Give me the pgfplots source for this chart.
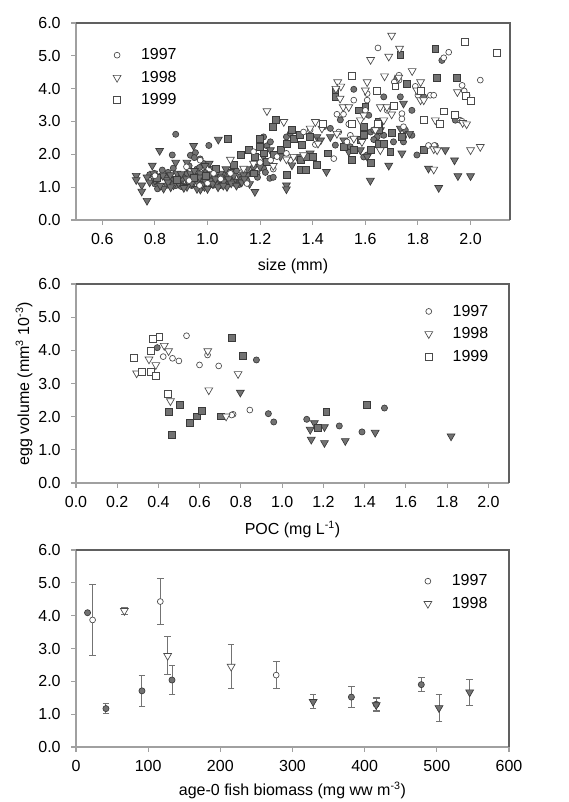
\documentclass[border=0pt]{standalone}
\usepackage{fontspec}
\setmainfont{Liberation Sans}
\usepackage{pgfplots}
\pgfplotsset{compat=1.18}
\definecolor{fillg}{HTML}{727272}
\definecolor{edgeg}{HTML}{3A3A3A}
\definecolor{openedge}{HTML}{4A4A4A}
\definecolor{axgray}{HTML}{A0A0A0}
\definecolor{framec}{HTML}{606060}
\newcommand{\fs}{\fontsize{12}{14}\selectfont}
\pgfplotsset{
 panel/.style={
  scale only axis, width=325.5pt, clip=false,
  axis x line=bottom, axis y line=left,
  axis line style={-, axgray, line width=0.8pt},
  ymin=0, ymax=6, ytick={0,1,...,6},
  tick style={axgray, line width=0.8pt}, tick align=outside, major tick length=3.5pt,
  yticklabel style={xshift=-4.5pt, /pgf/number format/.cd, fixed, fixed zerofill, precision=1},
  xticklabel style={yshift=-3pt},
  /pgf/number format/assume math mode=true,
  ticklabel style={font=\fs},
  label style={font=\fs},
  xlabel style={at={(axis description cs:0.5,-0.235)}, anchor=center},
  ylabel style={at={(axis description cs:-0.12,0.5)}, anchor=center},
  legend style={draw=none, fill=none, font=\fs, row sep=3pt, inner sep=0pt,
    /tikz/every odd column/.append style={column sep=13pt}},
  legend cell align=left,
 },
 o97/.style={only marks, mark=*, color=openedge, mark size=2.2pt, mark options={fill=white, line width=0.5pt}},
 f97/.style={only marks, forget plot, mark=*, color=edgeg, mark size=2.3pt, mark options={fill=fillg, line width=0.5pt}},
 o98/.style={only marks, mark=triangle*, color=openedge, mark size=3.4pt, mark options={rotate=180, fill=white, line width=0.5pt}},
 f98/.style={only marks, forget plot, mark=triangle*, color=edgeg, mark size=3.4pt, mark options={rotate=180, fill=fillg, line width=0.5pt}},
 o99/.style={only marks, mark=square*, color=openedge, mark size=2.6pt, mark options={fill=white, line width=0.5pt}},
 f99/.style={only marks, forget plot, mark=square*, color=edgeg, mark size=2.6pt, mark options={fill=fillg, line width=0.5pt}},
}
\begin{document}
\begin{tikzpicture}
\useasboundingbox (0,0) rectangle (426pt,601.5pt);
% ---------------- panel 1 ----------------
\begin{axis}[panel, at={(57pt,436.5pt)}, anchor=south west, height=147.75pt,
  xmin=0.5, xmax=2.15, xtick={0.6,0.8,...,2.01},
  xticklabel style={/pgf/number format/.cd, fixed, fixed zerofill, precision=1},
  xlabel={size (mm)},
  legend style={at={(axis description cs:0.085,0.885)}, anchor=north west}]
\addplot[f97] coordinates {(0.879,2.61)(0.866,1.98)(0.828,1.52)(0.798,1.42)(0.935,1.97)(0.954,2.05)(1.005,2.27)(0.972,1.86)(0.985,1.72)(0.922,1.42)(0.947,1.32)(0.82,1.01)(0.846,1.06)(0.871,1.17)(0.897,1.11)(0.922,1.06)(1.0,1.17)(1.023,1.06)(1.049,1.22)(1.074,1.32)(1.10,1.42)(1.125,1.32)(1.15,1.37)(1.175,1.62)(1.213,1.57)(1.188,1.42)(1.226,2.26)(1.213,2.53)(1.239,2.38)(1.237,1.27)(1.30,2.53)(1.315,2.64)(1.442,2.84)(1.467,2.79)(1.486,2.28)(1.543,2.23)(1.556,3.98)(1.613,3.19)(1.62,2.68)(1.632,2.74)(1.645,2.53)(1.67,2.58)(1.67,3.75)(1.72,4.31)(1.733,3.75)(1.745,2.53)(1.745,2.38)(1.752,2.74)(1.777,3.34)(1.777,2.58)(1.796,1.98)(1.822,3.75)(1.866,2.26)(1.891,4.86)(1.942,3.04)(1.594,1.92)(1.607,1.98)(1.632,2.45)(1.707,2.38)(1.505,3.05)
(0.78,1.38)(0.80,1.10)(0.81,0.95)(0.84,1.30)(0.86,1.25)(0.88,1.05)(0.89,1.38)(0.90,1.02)(0.91,1.28)(0.93,1.15)(0.94,1.05)(0.95,1.35)(0.96,1.55)(0.97,1.10)(0.98,1.25)(0.99,1.45)(1.00,1.00)(1.01,1.25)(1.02,1.35)(1.03,1.12)(1.04,1.30)(1.05,1.05)(1.06,1.38)(1.07,1.20)(1.08,1.10)(1.09,1.30)(1.10,1.18)(1.11,1.50)(1.12,1.08)(1.13,1.25)(0.85,1.45)(0.87,1.58)(0.93,1.65)(0.95,1.90)(0.97,1.60)(1.15,1.20)(1.17,1.45)(1.19,1.30)(1.22,1.45)(1.25,1.30)};
\addplot[f98] coordinates {(0.729,1.35)(0.729,1.22)(0.75,1.06)(0.75,0.87)(0.77,0.59)(0.818,2.11)(0.79,1.66)(0.795,1.42)(0.813,1.24)(0.833,0.96)(0.846,1.22)(0.859,1.37)(0.879,1.75)(0.884,1.42)(0.903,1.22)(0.922,1.75)(0.947,2.26)(0.935,1.42)(0.96,1.17)(0.973,0.93)(0.988,1.01)(1.0,1.32)(1.006,1.72)(1.023,1.57)(1.041,2.45)(1.049,1.42)(1.061,1.17)(1.087,1.47)(1.099,1.17)(1.125,1.17)(1.137,1.37)(1.18,0.86)(1.20,1.62)(1.213,1.93)(1.239,2.13)(1.277,1.93)(1.30,1.06)(1.30,0.94)(1.34,1.93)(1.39,2.03)(1.416,2.53)(1.43,2.43)(1.452,1.47)(1.467,2.53)(1.537,2.08)(1.581,2.13)(1.607,1.93)(1.619,1.20)(1.689,1.66)(1.739,2.03)(1.733,2.79)(1.745,3.55)(1.768,2.63)(1.84,1.57)(1.879,0.98)(1.904,2.13)(1.939,1.82)(1.952,1.34)(2.0,1.34)(1.657,2.74)(1.518,2.43)(1.321,1.67)(1.074,1.01)(0.922,1.01)(0.871,1.06)(0.972,1.42)
(0.77,1.30)(0.78,1.15)(0.80,1.20)(0.82,1.05)(0.83,1.35)(0.85,1.15)(0.86,1.00)(0.88,1.25)(0.89,1.12)(0.90,1.40)(0.91,0.98)(0.92,1.25)(0.94,1.12)(0.95,1.50)(0.96,0.95)(0.97,1.30)(0.98,1.08)(0.99,1.20)(1.00,0.95)(1.01,1.40)(1.02,1.10)(1.03,1.25)(1.04,1.00)(1.05,1.30)(1.06,1.05)(1.08,1.25)(1.09,1.12)(1.10,1.35)(1.11,1.05)(1.13,1.15)(1.14,1.25)(1.16,1.10)(0.99,1.65)(1.07,1.55)(1.15,1.55)};
\addplot[f99] coordinates {(0.808,1.27)(0.884,1.22)(0.947,1.27)(0.992,1.34)(1.03,1.57)(1.079,2.48)(1.099,1.69)(1.127,1.98)(1.156,2.13)(1.181,1.93)(1.175,1.42)(1.20,2.48)(1.20,2.23)(1.213,2.03)(1.226,1.77)(1.252,1.98)(1.259,3.04)(1.249,2.84)(1.277,2.13)(1.30,2.33)(1.30,1.37)(1.327,2.48)(1.321,2.74)(1.35,2.58)(1.353,1.82)(1.353,1.52)(1.372,1.52)(1.357,2.28)(1.376,1.93)(1.389,2.53)(1.40,1.93)(1.416,1.67)(1.437,2.94)(1.459,2.03)(1.486,3.90)(1.486,3.75)(1.518,2.23)(1.549,1.82)(1.556,2.13)(1.581,2.43)(1.575,3.34)(1.594,2.58)(1.60,3.44)(1.62,2.13)(1.62,1.74)(1.65,2.74)(1.65,2.99)(1.65,2.33)(1.67,2.33)(1.695,2.08)(1.70,2.65)(1.733,5.02)(1.758,4.15)(1.739,2.53)(1.822,2.15)(1.866,5.22)(1.873,4.34)(1.949,4.34)(1.594,2.84)};
\addplot[o97] coordinates {(1.648,5.24)(1.917,5.11)(1.898,4.94)(2.037,4.26)(1.728,4.41)(1.728,4.26)(1.556,3.65)(1.607,3.65)(1.492,3.22)(1.517,3.22)(1.600,3.34)(1.739,3.24)(1.739,3.08)(1.745,2.84)(1.790,4.07)(1.800,3.80)(1.847,3.80)(1.860,3.80)(1.968,4.10)(1.976,3.93)(1.987,3.80)(1.840,2.27)(1.862,2.27)(1.960,3.04)(1.967,3.01)(1.480,1.87)(1.499,2.68)(1.530,2.38)(1.543,2.58)(1.365,2.68)(1.390,2.74)(1.315,1.82)(1.300,2.03)(1.175,2.08)(1.150,1.11)(1.137,1.52)(1.240,1.82)(1.264,1.93)(1.087,1.42)(0.920,1.62)(0.972,1.82)(1.023,1.42)(1.644,2.79)(1.683,3.34)(1.537,2.92)(1.607,3.85)(0.80,1.35)(0.93,1.20)(0.97,1.05)(1.00,1.12)(1.05,1.25)(1.250,1.55)(1.20,1.75)(1.41,2.30)(1.71,4.20)};
\addlegendentry{1997}
\addplot[o98] coordinates {(1.700,5.62)(1.730,5.22)(1.620,4.88)(1.689,4.98)(1.778,4.54)(1.673,4.38)(1.727,4.34)(1.810,4.20)(1.495,4.20)(1.507,4.07)(1.488,4.00)(1.607,4.20)(1.600,3.95)(1.504,3.70)(1.516,3.44)(1.537,3.44)(1.657,3.44)(1.682,3.44)(1.700,3.22)(1.581,3.04)(1.594,3.19)(1.670,3.04)(1.810,3.65)(1.822,3.65)(1.950,3.90)(1.970,2.96)(1.985,2.92)(1.866,3.04)(1.860,2.16)(1.873,2.13)(2.000,2.13)(2.037,2.23)(1.860,1.54)(1.226,3.32)(1.410,2.99)(1.390,2.79)(1.435,2.79)(1.290,2.99)(1.420,2.33)(1.657,2.13)(1.556,2.48)(1.492,2.63)(1.587,2.38)(1.638,2.74)(1.175,1.72)(1.087,1.84)(1.327,1.93)(1.365,1.98)(1.137,1.57)(1.796,3.95)(1.25,1.65)(1.30,1.85)};
\addlegendentry{1998}
\addplot[o99] coordinates {(1.549,4.39)(1.642,3.92)(1.714,4.07)(1.708,3.47)(1.547,2.94)(1.648,2.94)(1.822,3.06)(1.883,2.94)(1.898,3.31)(1.939,3.21)(1.982,3.77)(2.0,3.63)(1.977,5.42)(2.10,5.09)(1.81,3.93)(1.44,2.94)};
\addlegendentry{1999}
\draw[framec, line width=0.8pt] (rel axis cs:0,1) -- (rel axis cs:1,1) -- (rel axis cs:1,0);
\end{axis}
% ---------------- panel 2 ----------------
\begin{axis}[panel, at={(57pt,239.25pt)}, anchor=south west, width=324.75pt, height=149.25pt,
  xmin=0, xmax=2.1, xtick={0,0.2,...,2.01},
  xticklabel style={/pgf/number format/.cd, fixed, fixed zerofill, precision=1},
  xlabel={POC (mg L\textsuperscript{-1})},
  ylabel={egg volume (mm\textsuperscript{3} 10\textsuperscript{-3})},
  legend style={at={(axis description cs:0.805,0.91)}, anchor=north west}]
\addplot[f97] coordinates {(0.394,4.08)(0.875,3.71)(0.933,2.09)(0.959,1.84)(1.119,1.92)(1.277,1.72)(1.387,1.54)(1.496,2.26)};
\addplot[f98] coordinates {(0.797,2.73)(1.136,1.61)(1.141,1.31)(1.156,1.81)(1.205,1.69)(1.205,1.21)(1.306,1.27)(1.451,1.52)(1.819,1.41)};
\addplot[f99] coordinates {(0.757,4.39)(0.807,3.82)(0.452,2.15)(0.504,2.35)(0.465,1.46)(0.554,1.81)(0.584,2.01)(0.610,2.18)(0.701,2.01)(1.172,1.67)(1.214,2.15)(1.411,2.35)};
\addplot[o97] coordinates {(0.536,4.44)(0.423,3.81)(0.468,3.76)(0.499,3.68)(0.599,3.56)(0.638,3.86)(0.692,3.53)(0.843,2.20)(0.762,2.07)(0.755,2.05)};
\addlegendentry{1997}
\addplot[o98] coordinates {(0.294,3.31)(0.354,3.73)(0.428,4.14)(0.449,3.98)(0.387,3.56)(0.639,3.98)(0.786,3.29)(0.644,2.80)(0.458,2.47)(0.728,2.01)};
\addlegendentry{1998}
\addplot[o99] coordinates {(0.282,3.78)(0.321,3.36)(0.362,3.98)(0.373,4.34)(0.404,4.41)(0.363,3.34)(0.386,3.24)(0.447,2.70)};
\addlegendentry{1999}
\draw[framec, line width=0.8pt] (rel axis cs:0,1) -- (rel axis cs:1,1) -- (rel axis cs:1,0);
\end{axis}
% ---------------- panel 3 ----------------
\begin{axis}[panel, at={(57pt,41.25pt)}, anchor=south west, width=324.75pt, height=147.75pt,
  xmin=0, xmax=600, xtick={0,100,...,600},
  xlabel={age-0 fish biomass (mg ww m\textsuperscript{-3})},
  xlabel style={at={(axis description cs:0.5,-0.22)}},
  error bars/error bar style={color=black!55, line width=0.7pt},
  error bars/error mark options={rotate=90, color=black!55, mark size=2.5pt, line width=0.7pt},
  legend style={at={(axis description cs:0.803,0.89)}, anchor=north west}]
\addplot[f97, error bars/.cd, y dir=both, y explicit] coordinates {(16,4.09)+-(0,0)(41.5,1.17)+-(0,0.15)(91.4,1.71)+-(0,0.48)(133,2.04)+-(0,0.43)(381.6,1.52)+-(0,0.33)(478.5,1.90)+-(0,0.21)(416,1.30)+-(0,0.2)};
\addplot[f98, error bars/.cd, y dir=both, y explicit] coordinates {(328.6,1.38)+-(0,0.21)(416,1.28)+-(0,0.21)(503,1.19)+-(0,0.40)(545.5,1.67)+-(0,0.40)};
\addplot[o97, error bars/.cd, y dir=both, y explicit] coordinates {(23,3.87)+-(0,1.09)(116.8,4.43)+-(0,0.71)(277.4,2.19)+-(0,0.40)};
\addlegendentry{1997}
\addplot[o98, error bars/.cd, y dir=both, y explicit] coordinates {(67,4.15)+-(0,0.11)(127,2.78)+-(0,0.58)(215,2.45)+-(0,0.68)};
\addlegendentry{1998}
\draw[framec, line width=0.8pt] (rel axis cs:0,1) -- (rel axis cs:1,1) -- (rel axis cs:1,0);
\end{axis}
\end{tikzpicture}
\end{document}
